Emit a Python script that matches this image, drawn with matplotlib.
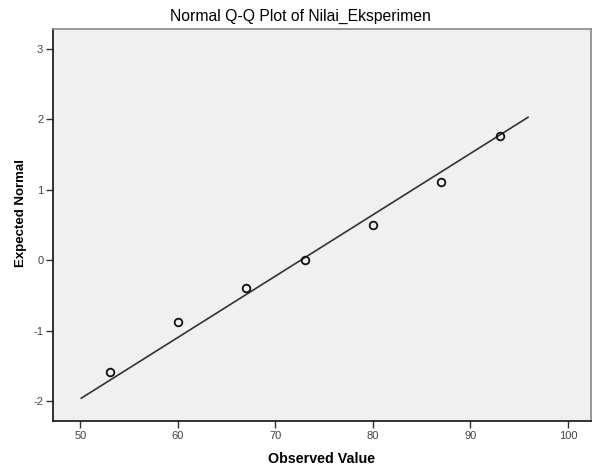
#
# Normal Q-Q plot of Nilai_Eksperimen (SPSS style)
#
import matplotlib
matplotlib.use('Agg')
import matplotlib.pyplot as plt

plt.rcParams['font.family'] = ['Liberation Sans', 'DejaVu Sans']
plt.rcParams['axes.unicode_minus'] = False

# Data
observed = [53, 60, 67, 73, 80, 87, 93]
expected = [-1.59, -0.88, -0.40, 0.0, 0.50, 1.11, 1.77]
line_x = [50.1, 95.9]
line_y = [-1.96, 2.03]
x_ticks = [50, 60, 70, 80, 90, 100]
y_ticks = [-2, -1, 0, 1, 2, 3]

fig = plt.figure(figsize=(5.95, 4.65), dpi=100)
ax = fig.add_axes([53/595, 44/465, 538/595, 392/465])
ax.set_facecolor('#f0f0f0')

ax.plot(line_x, line_y, color='#333333', lw=1.2)
ax.plot(observed, expected, 'o', ms=5.5, mfc='none', mec='#111111', mew=1.3)

ax.set_xlim(47.2, 102.36)
ax.set_ylim(-2.284, 3.284)
ax.set_xticks(x_ticks)
ax.set_yticks(y_ticks)
ax.tick_params(direction='out', length=5, width=1, color='#333333',
               labelcolor='#444444', labelsize=8, pad=2)

for s in ['left', 'bottom']:
    ax.spines[s].set_color('#111111')
for s in ['top', 'right']:
    ax.spines[s].set_color('#888888')
for s in ax.spines.values():
    s.set_linewidth(1.2)

ax.set_title('Normal Q-Q Plot of Nilai_Eksperimen', fontsize=11.3, pad=6,
             x=(300-53)/538)
ax.set_xlabel('Observed Value', fontsize=10.3, fontweight='bold', labelpad=8)
ax.set_ylabel('Expected Normal', fontsize=9.5, fontweight='bold')
ax.yaxis.set_label_coords(-0.048, 0.53)

plt.savefig('out.png', dpi=100)
plt.close(fig)
